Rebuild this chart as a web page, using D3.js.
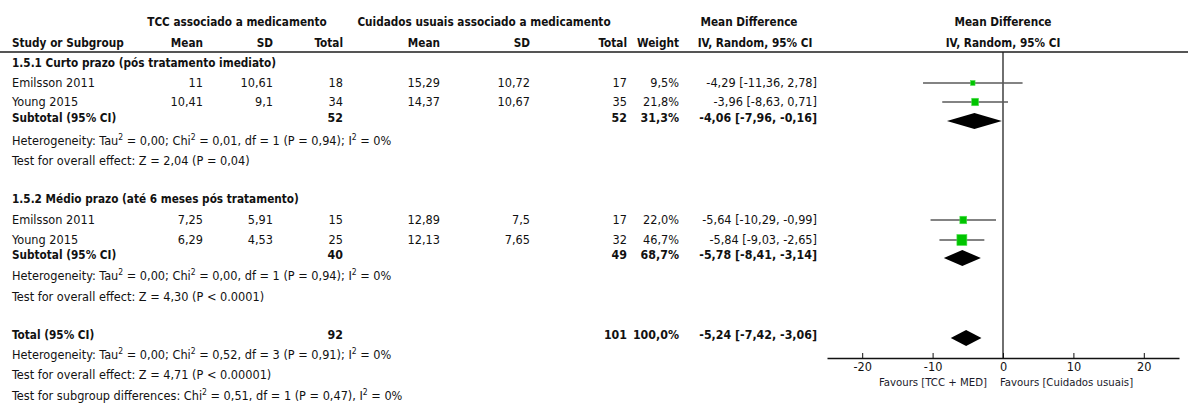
<!doctype html>
<html lang="pt">
  <head>
    <meta charset="utf-8">
    <title>Forest plot - TCC associado a medicamento</title>
    <style>
      body { margin: 0; background: #fff; }
      text { font-family: "DejaVu Sans Condensed", "DejaVu Sans", sans-serif; font-size: 12.6px; fill: #111; }
      .b  { font-weight: bold; font-size: 11.7px; }
      .bn { font-weight: bold; font-size: 12.3px; }
      .nar { font-size: 11.3px; fill: #1a1a2a; }
    </style>
  </head>
  <body>
    <script src="https://cdn.jsdelivr.net/npm/d3@7"></script>
    <script>

      // data
      var subgroups  = ["1.5.1 Curto prazo (pós tratamento imediato)", "1.5.2 Médio prazo (até 6 meses pós tratamento)"];
      var studies    = ["Emilsson 2011", "Young 2015", "Emilsson 2011", "Young 2015"];
      var expMean    = [11, 10.41, 7.25, 6.29];
      var expSD      = [10.61, 9.1, 5.91, 4.53];
      var expN       = [18, 34, 15, 25];
      var ctlMean    = [15.29, 14.37, 12.89, 12.13];
      var ctlSD      = [10.72, 10.67, 7.5, 7.65];
      var ctlN       = [17, 35, 17, 32];
      var weight     = [9.5, 21.8, 22.0, 46.7];
      var md         = [-4.29, -3.96, -5.64, -5.84];
      var lo         = [-11.36, -8.63, -10.29, -9.03];
      var hi         = [2.78, 0.71, -0.99, -2.65];

      var subExpN    = [52, 40];
      var subCtlN    = [52, 49];
      var subWeight  = [31.3, 68.7];
      var subMd      = [-4.06, -5.78];
      var subLo      = [-7.96, -8.41];
      var subHi      = [-0.16, -3.14];

      var totExpN = 92, totCtlN = 101, totWeight = 100.0;
      var totMd = -5.24, totLo = -7.42, totHi = -3.06;

      var hetTxt  = [
        ["Heterogeneity: Tau", "2", " = 0,00; Chi", "2", " = 0,01, df = 1 (P = 0,94); I", "2", " = 0%"],
        ["Heterogeneity: Tau", "2", " = 0,00; Chi", "2", " = 0,00, df = 1 (P = 0,94); I", "2", " = 0%"],
        ["Heterogeneity: Tau", "2", " = 0,00; Chi", "2", " = 0,52, df = 3 (P = 0,91); I", "2", " = 0%"]
      ];
      var effectTxt = ["Test for overall effect: Z = 2,04 (P = 0,04)",
                       "Test for overall effect: Z = 4,30 (P < 0.0001)",
                       "Test for overall effect: Z = 4,71 (P < 0.00001)"];
      var subgroupTxt = ["Test for subgroup differences: Chi", "2", " = 0,51, df = 1 (P = 0,47), I", "2", " = 0%"];

      var ticks = [-20, -10, 0, 10, 20];
      var favours = ["Favours [TCC + MED]", "Favours [Cuidados usuais]"];

      // layout
      var W = 1188, H = 405;
      var rowStudy = [82, 101, 219, 239];
      var rowSubHead = [62, 198];
      var rowSub = [117, 254];
      var rowHet = [140, 275];
      var rowEff = [160, 296];
      var rowTot = 334, rowTotHet = 354, rowTotEff = 374, rowSubDiff = 395;
      var axisY = 358;

      var col = {name: 12, em: 203, esd: 273, en: 343, cm: 440, csd: 530, cn: 627, w: 679, ci: 817};

      var comma = function(v){ return String(v).replace(".", ","); };
      var f2 = function(v){ return v.toFixed(2).replace(".", ","); };
      var ciTxt = function(m, l, h){ return f2(m) + " [" + f2(l) + ", " + f2(h) + "]"; };
      var wTxt = function(v){ return v.toFixed(1).replace(".", ",") + "%"; };

      var svg = d3.select("body").append("svg")
        .attr("width", W).attr("height", H);

      var x = d3.scaleLinear().domain([-25, 25]).range([827, 1179]);

      function txt(s, xx, yc, anchor, cls){
        return svg.append("text")
          .attr("x", xx).attr("y", yc + 4.5)
          .attr("text-anchor", anchor || "start")
          .attr("class", cls || null)
          .text(s);
      }
      function supTxt(parts, xx, yc){
        var t = svg.append("text").attr("x", xx).attr("y", yc + 4.5);
        parts.forEach(function(p, i){
          if (i % 2 == 1) {
            t.append("tspan").attr("dy", -5).style("font-size", "8.5px").text(p);
          } else {
            t.append("tspan").attr("dy", i == 0 ? 0 : 5).text(p);
          }
        });
      }

      // headers
      txt("TCC associado a medicamento", 237, 21, "middle", "b");
      txt("Cuidados usuais associado a medicamento", 484, 21, "middle", "b");
      txt("Mean Difference", 749, 21, "middle", "b");
      txt("Mean Difference", x(0), 21, "middle", "b");
      txt("Study or Subgroup", col.name, 42, "start", "b");
      txt("Mean", col.em, 42, "end", "b");
      txt("SD", col.esd, 42, "end", "b");
      txt("Total", col.en, 42, "end", "b");
      txt("Mean", col.cm, 42, "end", "b");
      txt("SD", col.csd, 42, "end", "b");
      txt("Total", col.cn, 42, "end", "b");
      txt("Weight", col.w, 42, "end", "b");
      txt("IV, Random, 95% CI", 755, 42, "middle", "b");
      txt("IV, Random, 95% CI", x(0), 42, "middle", "b");

      svg.append("line")
        .attr("x1", 0).attr("x2", W).attr("y1", 52).attr("y2", 52)
        .attr("stroke", "#555").attr("stroke-width", 2);

      // zero line
      svg.append("line")
        .attr("x1", x(0)).attr("x2", x(0)).attr("y1", 52).attr("y2", axisY)
        .attr("stroke", "#222").attr("stroke-width", 1.3);

      // subgroups
      subgroups.forEach(function(s, g){
        txt(s, col.name, rowSubHead[g], "start", "b");
        txt("Subtotal (95% CI)", col.name, rowSub[g], "start", "b");
        txt(subExpN[g], col.en, rowSub[g], "end", "bn");
        txt(subCtlN[g], col.cn, rowSub[g], "end", "bn");
        txt(wTxt(subWeight[g]), col.w, rowSub[g], "end", "bn");
        txt(ciTxt(subMd[g], subLo[g], subHi[g]), col.ci, rowSub[g], "end", "bn");
        supTxt(hetTxt[g], col.name, rowHet[g]);
        txt(effectTxt[g], col.name, rowEff[g]);
      });

      // study rows
      studies.forEach(function(s, i){
        var y = rowStudy[i];
        txt(s, col.name, y);
        txt(comma(expMean[i]), col.em, y, "end");
        txt(comma(expSD[i]), col.esd, y, "end");
        txt(expN[i], col.en, y, "end");
        txt(comma(ctlMean[i]), col.cm, y, "end");
        txt(comma(ctlSD[i]), col.csd, y, "end");
        txt(ctlN[i], col.cn, y, "end");
        txt(wTxt(weight[i]), col.w, y, "end");
        txt(ciTxt(md[i], lo[i], hi[i]), col.ci, y, "end");
      });

      svg.selectAll(".ci")
        .data(studies)
        .enter()
        .append("line")
        .attr("x1", function(d, i){ return x(lo[i]); })
        .attr("x2", function(d, i){ return x(hi[i]); })
        .attr("y1", function(d, i){ return rowStudy[i] + 1; })
        .attr("y2", function(d, i){ return rowStudy[i] + 1; })
        .attr("stroke", "#5a5a5a").attr("stroke-width", 1.6);

      svg.selectAll(".sq")
        .data(studies)
        .enter()
        .append("rect")
        .attr("x", function(d, i){ return x(md[i]) - 0.73 * Math.sqrt(weight[i]); })
        .attr("y", function(d, i){ return rowStudy[i] + 1 - 0.8 * Math.sqrt(weight[i]); })
        .attr("width", function(d, i){ return 1.46 * Math.sqrt(weight[i]); })
        .attr("height", function(d, i){ return 1.6 * Math.sqrt(weight[i]); })
        .attr("fill", "#00c400").attr("stroke", "#4ee04e").attr("stroke-width", 0.6);

      function diamond(m, l, h, y){
        svg.append("path")
          .attr("d", "M" + x(l) + "," + y + "L" + x(m) + "," + (y - 8) +
                     "L" + x(h) + "," + y + "L" + x(m) + "," + (y + 8) + "Z")
          .attr("fill", "#000");
      }
      subMd.forEach(function(m, g){ diamond(m, subLo[g], subHi[g], rowSub[g] + 4); });

      // total
      txt("Total (95% CI)", col.name, rowTot, "start", "b");
      txt(totExpN, col.en, rowTot, "end", "bn");
      txt(totCtlN, col.cn, rowTot, "end", "bn");
      txt(wTxt(totWeight), col.w, rowTot, "end", "bn");
      txt(ciTxt(totMd, totLo, totHi), col.ci, rowTot, "end", "bn");
      supTxt(hetTxt[2], col.name, rowTotHet);
      txt(effectTxt[2], col.name, rowTotEff);
      supTxt(subgroupTxt, col.name, rowSubDiff);
      diamond(totMd, totLo, totHi, rowTot + 4);

      // axis
      var axis = svg.append("g")
        .attr("transform", "translate(0," + axisY + ")")
        .call(d3.axisBottom(x).tickValues(ticks).tickSizeInner(-5).tickSizeOuter(0)
              .tickPadding(4).tickFormat(function(d){ return String(d); }));
      axis.select(".domain").attr("stroke", "#111").attr("stroke-width", 1.4);
      axis.selectAll(".tick line").attr("stroke", "#111").attr("y2", -5).attr("y1", 1);
      axis.selectAll(".tick text")
        .attr("font-family", "DejaVu Sans Condensed, DejaVu Sans, sans-serif")
        .attr("font-size", 11.5).attr("fill", "#111");

      txt(favours[0], 987, 381, "end", "nar");
      txt(favours[1], 1000, 381, "start", "nar");

    </script>
  </body>
</html>
